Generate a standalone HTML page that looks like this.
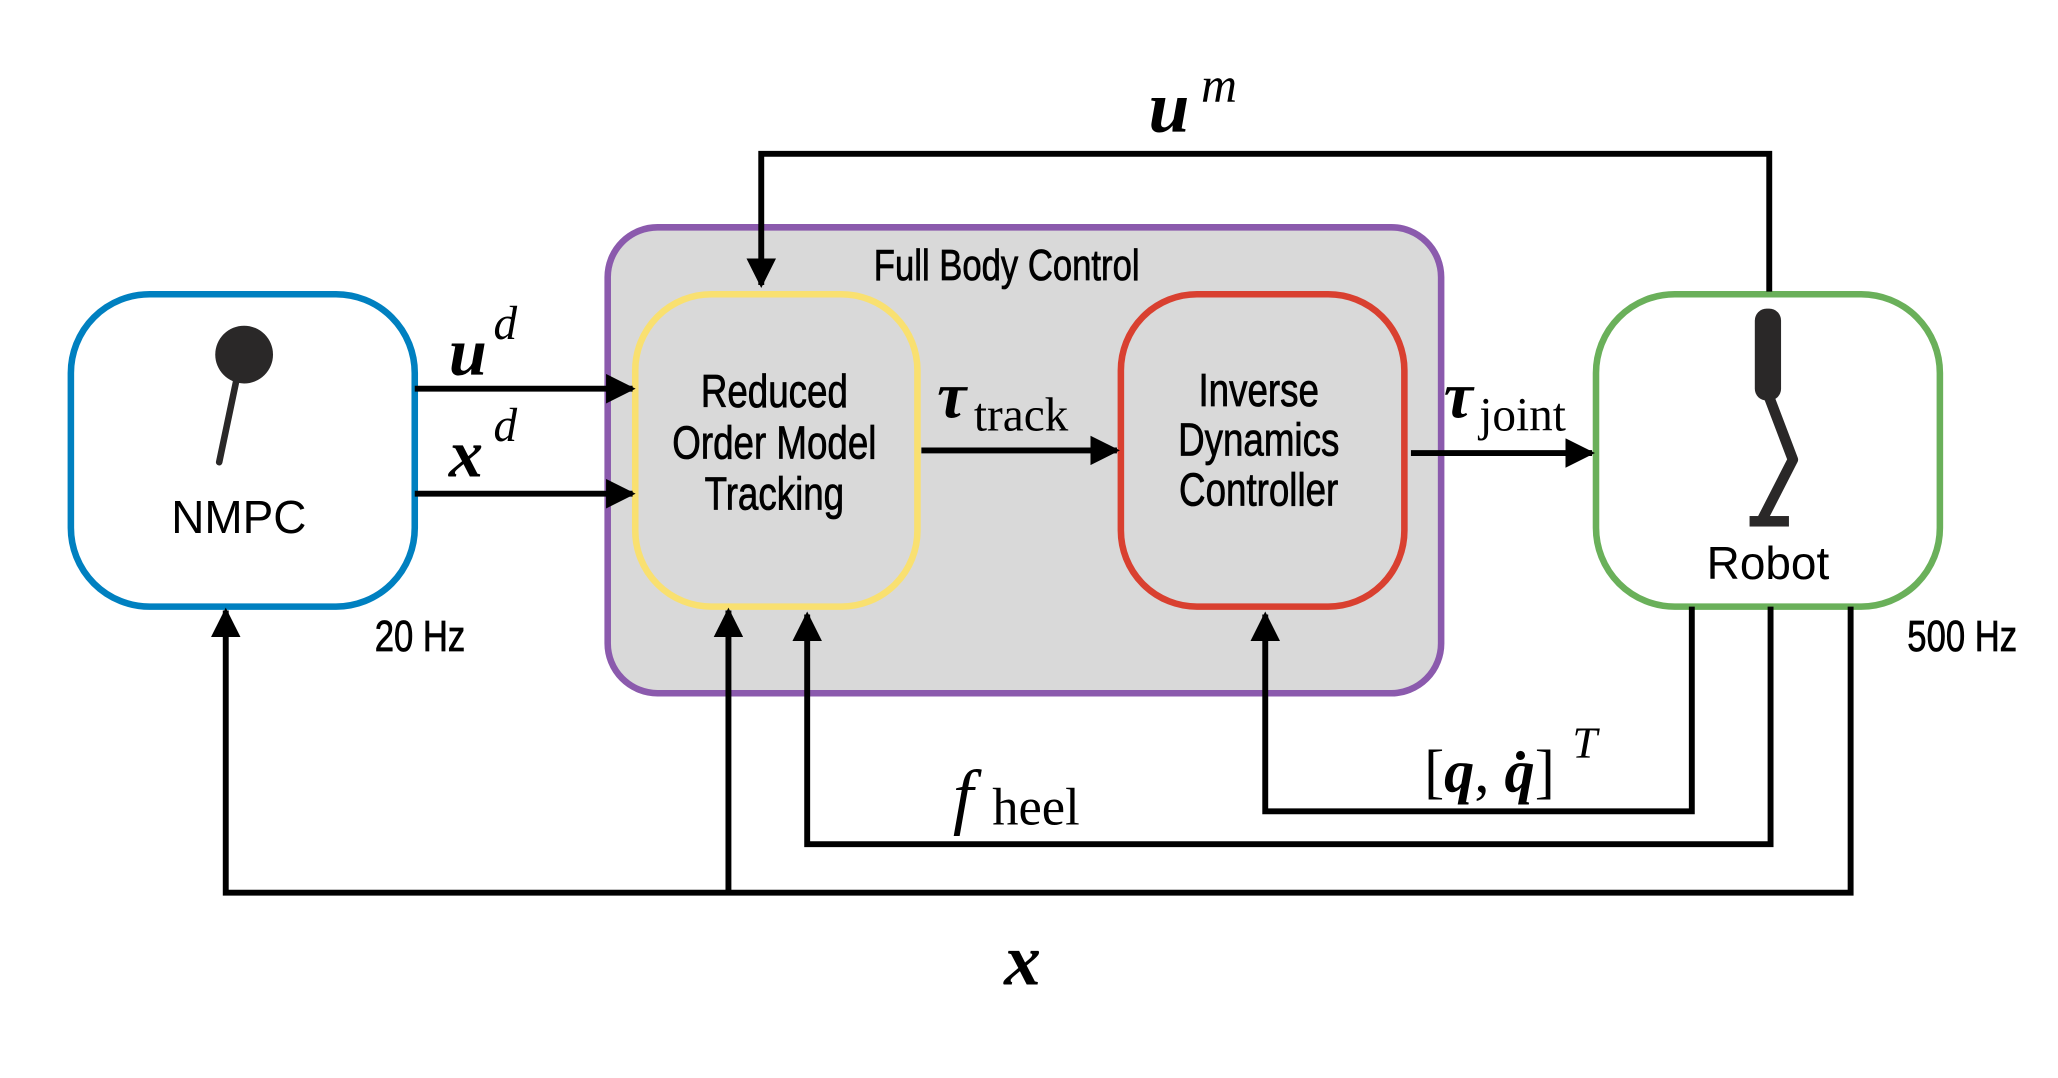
<!DOCTYPE html>
<html><head><meta charset="utf-8"><style>
html,body{margin:0;padding:0;background:#fff;}
svg{display:block;}
.s{font-family:"Liberation Sans",sans-serif;}
.m{font-family:"Liberation Serif",serif;}
</style></head><body>
<svg width="2058" height="1078" viewBox="0 0 1568 821" xmlns="http://www.w3.org/2000/svg">
<defs>
<marker id="a" markerWidth="5" markerHeight="5" refX="4.5" refY="2.5" orient="auto" markerUnits="strokeWidth">
<path d="M0,0 L5,2.5 L0,5 Z" fill="#000"/></marker>
</defs>
<rect x="463" y="173" width="635" height="355" rx="38" fill="#d9d9d9" stroke="#8b5aad" stroke-width="5"/>
<text x="767" y="213" class="s" font-size="33" text-anchor="middle" stroke="#000" stroke-width="0.6" transform="translate(767 0) scale(0.8 1) translate(-767 0)">Full Body Control</text>
<rect x="54" y="224" width="262" height="238" rx="60" fill="#fff" stroke="#0080c0" stroke-width="5"/>
<circle cx="186" cy="270" r="22" fill="#2a2828"/>
<line x1="180" y1="290" x2="167" y2="352" stroke="#2a2828" stroke-width="5" stroke-linecap="round"/>
<text x="182" y="406" class="s" font-size="35" text-anchor="middle">NMPC</text>
<text x="320" y="496" class="s" font-size="33" text-anchor="middle" stroke="#000" stroke-width="0.6" transform="translate(320 0) scale(0.8 1) translate(-320 0)">20 Hz</text>
<rect x="484" y="224" width="215" height="238" rx="58" fill="#d9d9d9" stroke="#f9e070" stroke-width="5"/>
<g class="s" font-size="35" text-anchor="middle" stroke="#000" stroke-width="0.6" transform="translate(590 0) scale(0.8 1) translate(-590 0)">
<text x="590" y="310">Reduced</text><text x="590" y="349">Order Model</text><text x="590" y="388">Tracking</text></g>
<rect x="854" y="224" width="216" height="238" rx="58" fill="#d9d9d9" stroke="#d94030" stroke-width="5"/>
<g class="s" font-size="35" text-anchor="middle" stroke="#000" stroke-width="0.6" transform="translate(959 0) scale(0.8 1) translate(-959 0)">
<text x="959" y="309">Inverse</text><text x="959" y="347">Dynamics</text><text x="959" y="385">Controller</text></g>
<rect x="1216" y="224" width="262" height="238" rx="60" fill="#fff" stroke="#6ab05a" stroke-width="5"/>
<rect x="1337" y="235" width="20" height="70" rx="9" fill="#2a2828"/>
<polyline points="1347,300 1366,350 1343,395" fill="none" stroke="#2a2828" stroke-width="8" stroke-linejoin="round"/>
<rect x="1333" y="393" width="30" height="8" fill="#2a2828"/>
<text x="1347" y="441" class="s" font-size="35" text-anchor="middle">Robot</text>
<text x="1495" y="496" class="s" font-size="33" text-anchor="middle" stroke="#000" stroke-width="0.6" transform="translate(1495 0) scale(0.8 1) translate(-1495 0)">500 Hz</text>
<g stroke="#000" stroke-width="4.5" fill="none">
<line x1="316" y1="296" x2="482" y2="296" marker-end="url(#a)"/>
<line x1="316" y1="376" x2="482" y2="376" marker-end="url(#a)"/>
<line x1="702" y1="343" x2="851" y2="343" marker-end="url(#a)"/>
<line x1="1075" y1="345" x2="1213" y2="345" marker-end="url(#a)"/>
<polyline points="1348,222 1348,117 580,117 580,217" marker-end="url(#a)"/>
<polyline points="1410,462 1410,680 172,680 172,465" marker-end="url(#a)"/>
<polyline points="555,680 555,465" marker-end="url(#a)"/>
<polyline points="1349,462 1349,643 615,643 615,468" marker-end="url(#a)"/>
<polyline points="1289,462 1289,618 964,618 964,468" marker-end="url(#a)"/>
</g>
<g class="m">
<text x="342" y="285" font-size="52" font-weight="bold" font-style="italic">u</text>
<text x="376" y="258" font-size="36" font-style="italic">d</text>
<text x="342" y="363" font-size="52" font-weight="bold" font-style="italic">x</text>
<text x="376" y="336" font-size="36" font-style="italic">d</text>
<text x="714" y="318" font-size="50" font-weight="bold" font-style="italic">τ</text>
<text x="742" y="328" font-size="36">track</text>
<text x="1100" y="318" font-size="50" font-weight="bold" font-style="italic">τ</text>
<text x="1127" y="328" font-size="36">joint</text>
<text x="875" y="100" font-size="56" font-weight="bold" font-style="italic">u</text>
<text x="915" y="77" font-size="38" font-style="italic">m</text>
<text x="726" y="625" font-size="56" font-style="italic">f</text>
<text x="756" y="628" font-size="40">heel</text>
<text x="1085" y="603" font-size="46">[<tspan font-weight="bold" font-style="italic">q</tspan>, <tspan font-weight="bold" font-style="italic">q̇</tspan>]</text>
<text x="1198" y="577" font-size="34" font-style="italic">T</text>
<text x="765" y="750" font-size="56" font-weight="bold" font-style="italic">x</text>
</g>
</svg>
</body></html>
